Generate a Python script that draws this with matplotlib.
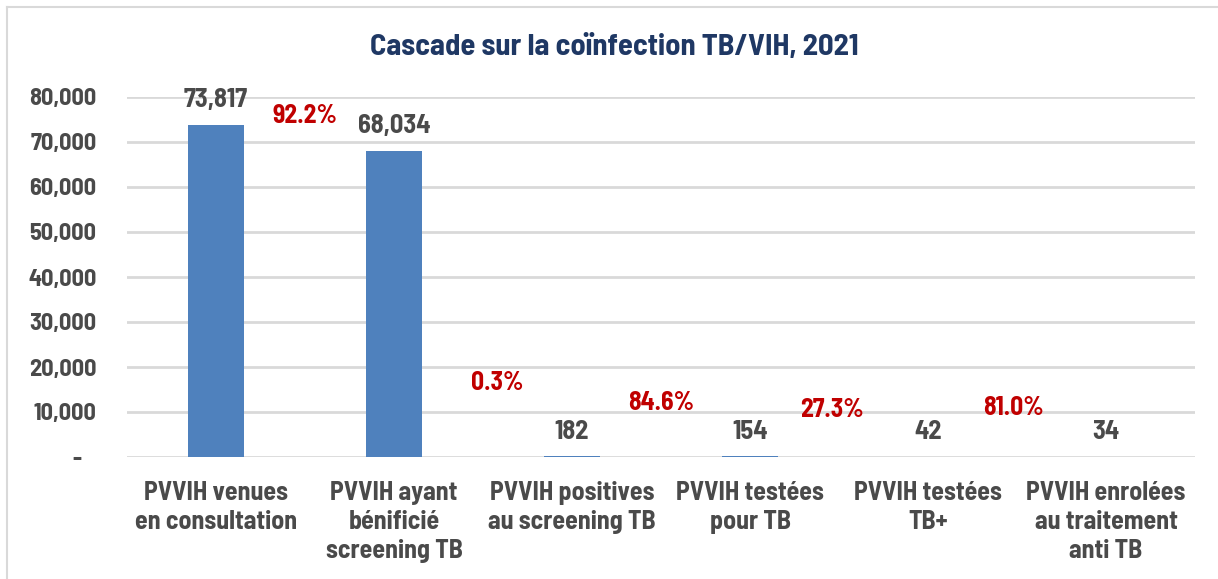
import matplotlib
matplotlib.use("Agg")
import matplotlib.pyplot as plt
from matplotlib.lines import Line2D

categories = ["PVVIH venues\nen consultation", "PVVIH ayant\nbénificié\nscreening TB",
              "PVVIH positives\nau screening TB", "PVVIH testées\npour TB",
              "PVVIH testées\nTB+", "PVVIH enrolées\nau traitement\nanti TB"]
values = [73817, 68034, 182, 154, 42, 34]
value_labels = ["73,817", "68,034", "182", "154", "42", "34"]
pct_labels = ["92.2%", "0.3%", "84.6%", "27.3%", "81.0%"]
pct_x = [0.5, 1.58, 2.5, 3.46, 4.48]
pct_y = [75800, 16400, 12000, 10400, 10900]
yticks = [0, 10000, 20000, 30000, 40000, 50000, 60000, 70000, 80000]
ytick_labels = ["-\u00a0\u00a0\u00a0", "10,000", "20,000", "30,000", "40,000", "50,000",
                "60,000", "70,000", "80,000"]
title = "Cascade sur la coïnfection TB/VIH, 2021"

FONT = ["Barlow Semi Condensed", "Liberation Sans", "DejaVu Sans"]
plt.rcParams['font.family'] = FONT
TXT = "#4A4A4A"
BAR = "#4F81BD"
RED = "#C00000"

fig = plt.figure(figsize=(12.18, 5.79), dpi=100)
fig.add_artist(Line2D([7/1218, 1], [1 - 7/579, 1 - 7/579], transform=fig.transFigure,
                      color="#D9D9D9", linewidth=1.5))
fig.add_artist(Line2D([7/1218, 7/1218], [0, 1 - 7/579], transform=fig.transFigure,
                      color="#D9D9D9", linewidth=1.5))
ax = fig.add_axes([127/1218, 1 - 457/579, 1068/1218, 360/579])

x = list(range(len(categories)))
ax.bar(x, values, width=0.315, color=BAR, zorder=3)
ax.set_xlim(-0.5, len(categories) - 0.5)
ax.set_ylim(0, 80000)
ax.set_yticks(yticks)
ax.set_yticklabels(ytick_labels, fontsize=17.5)
ax.set_xticks(x)
ax.set_xticklabels(categories, linespacing=1.28, fontsize=18.7)
ax.yaxis.grid(True, color="#D9D9D9", linewidth=2, zorder=0)
ax.set_axisbelow(True)
for s in ax.spines.values():
    s.set_visible(False)
ax.tick_params(axis="both", length=0, colors=TXT)
ax.tick_params(axis="y", pad=22)
ax.tick_params(axis="x", pad=17)
for lab in ax.get_xticklabels() + ax.get_yticklabels():
    lab.set_fontweight("bold")
    lab.set_color(TXT)

for xi, v, lab in zip(x, values, value_labels):
    ax.annotate(lab, (xi, v), xytext=(0, 9), textcoords="offset points",
                ha="center", va="bottom", fontsize=19, fontweight="bold", color=TXT)

for px, lab, py in zip(pct_x, pct_labels, pct_y):
    ax.text(px, py, lab, ha="center", va="center", fontsize=18.5,
            fontweight="bold", color=RED)

fig.text(614/1218, 1 - 47/579, title, ha="center", va="center", fontsize=22,
         fontweight="bold", color="#1F3864")

fig.savefig("out.png", dpi=100)
